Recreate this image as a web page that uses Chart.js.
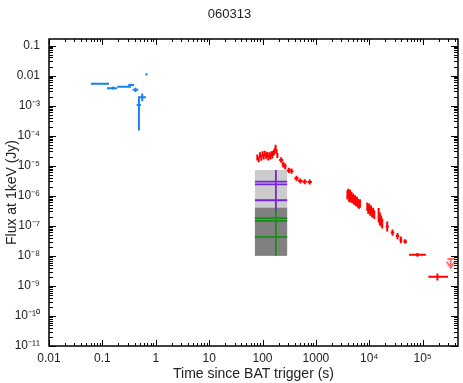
<!DOCTYPE html>
<html><head><meta charset="utf-8">
<script src="https://cdn.jsdelivr.net/npm/chart.js@4/dist/chart.umd.min.js"></script>
<style>html,body{margin:0;padding:0;background:#fff}#wrap{width:463px;height:383px}</style>
</head><body><div id="wrap"><canvas id="c" width="463" height="383"></canvas></div>
<script>
// ---------- data ----------
const titleText = '060313';
const xTitle = 'Time since BAT trigger (s)';
const yTitle = 'Flux at 1keV (Jy)';
const xRange = [0.01, 4.6e5];
const yRange = [1e-11, 0.165];
const xTickExps = [-2, -1, 0, 1, 2, 3, 4, 5];
const xTickLabels = ['0.01', '0.1', '1', '10', '100', '1000', '10⁴', '10⁵'];
const yTickExps = [-1, -2, -3, -4, -5, -6, -7, -8, -9, -10, -11];
const yTickLabels = ['0.1', '0.01', '10⁻³', '10⁻⁴', '10⁻⁵', '10⁻⁶', '10⁻⁷', '10⁻⁸', '10⁻⁹', '10⁻¹⁰', '10⁻¹¹'];

// BAT (blue)
const batT   = [0.093, 0.16, 0.214, 0.285, 0.343, 0.417, 0.67, 0.558, 0.484];
const batTlo = [0.061, 0.122, 0.19, 0.254, 0.305, 0.369, 0.65, 0.47, 0.438];
const batThi = [0.133, 0.188, 0.254, 0.343, 0.391, 0.47, 0.69, 0.655, 0.528];
const batF   = [5.35e-3, 3.8e-3, 4.25e-3, 4.25e-3, 4.9e-3, 3.4e-3, 0.011, 1.9e-3, 1.05e-3];
const batFlo = [5.1e-3, 3.4e-3, 3.95e-3, 3.95e-3, 4.5e-3, 2.85e-3, 0.0101, 1.4e-3, 1.5e-4];
const batFhi = [5.6e-3, 4.3e-3, 4.6e-3, 4.6e-3, 5.3e-3, 3.95e-3, 0.012, 2.55e-3, 2.0e-3];

// XRT (red)
const xrtT = [80, 85, 90, 95, 100, 105, 110, 116, 122, 128, 134, 140, 146, 152, 158, 164, 170, 176, 183, 190,
  224, 245, 266, 312, 350, 434, 512, 617, 765,
  3900, 4050, 4200, 4350, 4500, 4650, 4800, 5000, 5200, 5400, 5600, 5850, 6100, 6400, 6700,
  9200, 9600, 10000, 10400, 10800, 11300, 11800, 12400,
  15000, 15800, 16700, 17500, 21700, 27300, 33800, 39100, 47100, 80000, 189000];
const xrtTlo = [77, 82, 87, 92, 97, 102, 107, 112, 118, 124, 130, 136, 142, 148, 154, 160, 166, 172, 179, 185,
  205, 228, 250, 285, 322, 395, 466, 562, 697,
  3780, 3930, 4080, 4230, 4380, 4530, 4680, 4870, 5070, 5270, 5460, 5700, 5950, 6240, 6540,
  8950, 9350, 9750, 10150, 10550, 11050, 11550, 12150,
  14700, 15500, 16400, 17200, 20300, 25300, 31500, 36800, 43500, 56000, 128000];
const xrtThi = [83, 88, 93, 98, 103, 108, 113, 120, 126, 132, 138, 144, 150, 156, 162, 168, 174, 180, 187, 196,
  245, 263, 283, 342, 380, 477, 563, 678, 840,
  4020, 4170, 4320, 4470, 4620, 4770, 4920, 5130, 5330, 5530, 5740, 6000, 6250, 6560, 6860,
  9450, 9850, 10250, 10650, 11050, 11550, 12050, 12650,
  15300, 16100, 17000, 17800, 23200, 29500, 36300, 41500, 51000, 115000, 300000];
const xrtF = [1.9e-5, 1.6e-5, 2.3e-5, 1.8e-5, 2.5e-5, 2.0e-5, 2.6e-5, 2.1e-5, 2.4e-5, 1.9e-5, 2.3e-5, 2.0e-5, 2.5e-5, 2.2e-5, 2.6e-5, 2.8e-5, 3.3e-5, 4.2e-5, 3.0e-5, 2.2e-5,
  1.55e-5, 1.1e-5, 9.6e-6, 7.0e-6, 6.6e-6, 3.8e-6, 3.1e-6, 2.95e-6, 2.85e-6,
  1.1e-6, 1.25e-6, 9.0e-7, 1.15e-6, 8.5e-7, 1.0e-6, 8.0e-7, 9.0e-7, 7.2e-7, 7.8e-7, 6.4e-7, 6.8e-7, 5.8e-7, 5.2e-7, 5.6e-7,
  4.4e-7, 3.5e-7, 4.0e-7, 3.1e-7, 3.4e-7, 2.7e-7, 2.9e-7, 2.4e-7,
  2.3e-7, 1.8e-7, 1.5e-7, 1.25e-7, 9.5e-8, 6.0e-8, 4.6e-8, 3.4e-8, 3.0e-8, 1.08e-8, 2.0e-9];
const xrtFlo = [1.5e-5, 1.3e-5, 1.85e-5, 1.45e-5, 2.0e-5, 1.6e-5, 2.1e-5, 1.7e-5, 1.95e-5, 1.5e-5, 1.85e-5, 1.6e-5, 2.0e-5, 1.75e-5, 2.1e-5, 2.3e-5, 2.7e-5, 3.5e-5, 2.45e-5, 1.8e-5,
  1.25e-5, 8.8e-6, 7.7e-6, 5.7e-6, 5.4e-6, 3.1e-6, 2.55e-6, 2.4e-6, 2.35e-6,
  7.5e-7, 8.8e-7, 6.2e-7, 8.0e-7, 6.0e-7, 7.0e-7, 5.6e-7, 6.3e-7, 5.0e-7, 5.5e-7, 4.5e-7, 4.8e-7, 4.1e-7, 3.7e-7, 4.0e-7,
  3.1e-7, 2.45e-7, 2.8e-7, 2.15e-7, 2.4e-7, 1.9e-7, 2.0e-7, 1.7e-7,
  1.3e-7, 1.05e-7, 9.5e-8, 8.2e-8, 6.5e-8, 4.7e-8, 3.6e-8, 2.65e-8, 2.55e-8, 9.4e-9, 1.5e-9];
const xrtFhi = [2.35e-5, 2.0e-5, 2.8e-5, 2.2e-5, 3.05e-5, 2.45e-5, 3.15e-5, 2.55e-5, 2.9e-5, 2.3e-5, 2.8e-5, 2.45e-5, 3.05e-5, 2.7e-5, 3.15e-5, 3.4e-5, 4.0e-5, 5.0e-5, 3.6e-5, 2.7e-5,
  1.9e-5, 1.36e-5, 1.18e-5, 8.6e-6, 8.1e-6, 4.6e-6, 3.75e-6, 3.55e-6, 3.45e-6,
  1.5e-6, 1.7e-6, 1.25e-6, 1.6e-6, 1.15e-6, 1.35e-6, 1.08e-6, 1.2e-6, 9.8e-7, 1.05e-6, 8.7e-7, 9.2e-7, 7.9e-7, 7.1e-7, 7.6e-7,
  6.0e-7, 4.8e-7, 5.5e-7, 4.3e-7, 4.7e-7, 3.7e-7, 4.0e-7, 3.3e-7,
  3.9e-7, 2.8e-7, 2.2e-7, 1.75e-7, 1.38e-7, 7.6e-8, 5.8e-8, 4.4e-8, 3.55e-8, 1.24e-8, 2.6e-9];

// XRT upper limit
const ulT = [336000], ulTlo = [291000], ulThi = [405000], ulF = [7.8e-9], ulTip = [4.0e-9];

// UVOT-like bands
const bandT = [178], bandTlo = [72], bandThi = [290];
const lightBox = [4.05e-7, 7.2e-6];
const darkBox = [1.0e-8, 4.05e-7];
const purpleF = [2.97e-6, 2.41e-6, 7.1e-7];
const purpleSpan = [3.37e-7, 7.2e-6];
const greenF = [1.79e-7, 1.45e-7, 4.3e-8];
const greenSpan = [1.0e-8, 3.37e-7];

// ---------- colours ----------
const BLUE = '#1a82ec', RED = '#ff0000', PINK = '#ff7070';
const PURPLE = '#7a22dc', GREEN = '#1a8c1a', LGREY = '#cccccc', DGREY = '#808080';

const FONT = "'Liberation Sans', Arial, Helvetica, sans-serif";
Chart.defaults.font.family = FONT;

function pts(t, f) { return t.map((v, i) => ({x: v, y: f[i]})); }
function labelFor(v, exps, labels) {
  const l = Math.log10(v), e = Math.round(l);
  if (Math.abs(l - e) > 1e-6) return '';
  const k = exps.indexOf(e);
  return k >= 0 ? labels[k] : '';
}

const bandsPlugin = {
  id: 'bands',
  beforeDatasetsDraw(chart) {
    const {ctx, chartArea: a, scales: {x, y}} = chart;
    ctx.save();
    ctx.beginPath(); ctx.rect(a.left, a.top, a.right - a.left, a.bottom - a.top); ctx.clip();
    const x0 = x.getPixelForValue(bandTlo[0]), x1 = x.getPixelForValue(bandThi[0]), xc = x.getPixelForValue(bandT[0]);
    const box = (r, c) => { const y0 = y.getPixelForValue(r[1]), y1 = y.getPixelForValue(r[0]); ctx.fillStyle = c; ctx.fillRect(x0, y0, x1 - x0, y1 - y0); };
    box(lightBox, LGREY); box(darkBox, DGREY);
    const lines = (vals, span, c) => {
      ctx.strokeStyle = c; ctx.lineWidth = 1.8; ctx.beginPath();
      vals.forEach(v => { const py = y.getPixelForValue(v); ctx.moveTo(x0, py); ctx.lineTo(x1, py); });
      ctx.moveTo(xc, y.getPixelForValue(span[0])); ctx.lineTo(xc, y.getPixelForValue(span[1]));
      ctx.stroke();
    };
    lines(purpleF, purpleSpan, PURPLE); lines(greenF, greenSpan, GREEN);
    ctx.restore();
  }
};

const errorPlugin = {
  id: 'errbars',
  afterDatasetsDraw(chart) {
    const {ctx, chartArea: a, scales: {x, y}} = chart;
    ctx.save();
    ctx.beginPath(); ctx.rect(a.left, a.top, a.right - a.left, a.bottom - a.top); ctx.clip();
    chart.data.datasets.forEach(ds => {
      const e = ds.err; if (!e) return;
      ctx.strokeStyle = ds.borderColor; ctx.lineWidth = 2;
      ds.data.forEach((p, i) => {
        const px = x.getPixelForValue(p.x), py = y.getPixelForValue(p.y);
        const xa = x.getPixelForValue(e.tlo[i]), xb = x.getPixelForValue(e.thi[i]);
        ctx.beginPath();
        ctx.moveTo(xa, py); ctx.lineTo(xb, py);
        if (e.ul) {
          const yt = y.getPixelForValue(e.tip[i]);
          ctx.moveTo(px, py); ctx.lineTo(px, yt);
          ctx.moveTo(px - 4, yt - 6); ctx.lineTo(px, yt); ctx.lineTo(px + 4, yt - 6);
        } else {
          ctx.moveTo(px, y.getPixelForValue(e.fhi[i])); ctx.lineTo(px, y.getPixelForValue(e.flo[i]));
        }
        ctx.stroke();
      });
    });
    ctx.restore();
  }
};

const framePlugin = {
  id: 'frame',
  afterDraw(chart) {
    const {ctx, chartArea: a, scales: {x, y}} = chart;
    ctx.save();
    ctx.strokeStyle = '#000'; ctx.lineWidth = 1;
    ctx.beginPath();
    for (let e = -3; e <= 6; e++) for (let m = 1; m <= 9; m++) {
      const v = m * Math.pow(10, e);
      if (v < x.min * 0.999 || v > x.max) continue;
      const px = Math.round(x.getPixelForValue(v)) + 0.5, L = m === 1 ? 6 : 3;
      ctx.moveTo(px, a.bottom); ctx.lineTo(px, a.bottom - L);
      ctx.moveTo(px, a.top); ctx.lineTo(px, a.top + L);
    }
    for (let e = -12; e <= 0; e++) for (let m = 1; m <= 9; m++) {
      const v = m * Math.pow(10, e);
      if (v < y.min * 0.999 || v > y.max) continue;
      const py = Math.round(y.getPixelForValue(v)) + 0.5, L = m === 1 ? 7 : 4;
      ctx.moveTo(a.left, py); ctx.lineTo(a.left + L, py);
      ctx.moveTo(a.right, py); ctx.lineTo(a.right - L, py);
    }
    ctx.stroke();
    ctx.lineWidth = 1.5;
    ctx.strokeRect(a.left, a.top, a.right - a.left, a.bottom - a.top);
    ctx.restore();
  }
};

new Chart(document.getElementById('c'), {
  type: 'scatter',
  data: {
    datasets: [
      {label: 'BAT', data: pts(batT, batF), borderColor: BLUE, backgroundColor: BLUE, pointRadius: 0,
       err: {tlo: batTlo, thi: batThi, flo: batFlo, fhi: batFhi}},
      {label: 'XRT', data: pts(xrtT, xrtF), borderColor: RED, backgroundColor: RED, pointRadius: 0,
       err: {tlo: xrtTlo, thi: xrtThi, flo: xrtFlo, fhi: xrtFhi}},
      {label: 'XRT UL', data: pts(ulT, ulF), borderColor: PINK, backgroundColor: PINK, pointRadius: 0,
       err: {tlo: ulTlo, thi: ulThi, ul: true, tip: ulTip}}
    ]
  },
  options: {
    responsive: false, animation: false, devicePixelRatio: 1,
    layout: {padding: {left: 0, right: 4, top: 0, bottom: 0}},
    plugins: {
      legend: {display: false}, tooltip: {enabled: false},
      title: {display: true, text: titleText, color: '#222', font: {size: 13, weight: 'normal', family: FONT},
              padding: {top: 7, bottom: 16.4}}
    },
    scales: {
      x: {type: 'logarithmic', min: xRange[0], max: xRange[1], position: 'bottom',
          grid: {display: false, drawTicks: false}, border: {display: false},
          ticks: {autoSkip: false, maxRotation: 0, padding: 5, color: '#222', font: {size: 12},
                  callback: v => labelFor(v, xTickExps, xTickLabels)},
          title: {display: true, text: xTitle, color: '#222', font: {size: 14}, padding: {top: 0, bottom: 0}},
          afterFit(s) { s.height = 37; }},
      y: {type: 'logarithmic', min: yRange[0], max: yRange[1], position: 'left',
          grid: {display: false, drawTicks: false}, border: {display: false},
          ticks: {autoSkip: false, padding: 9, color: '#222', font: {size: 12},
                  callback: v => labelFor(v, yTickExps, yTickLabels)},
          title: {display: true, text: yTitle, color: '#222', font: {size: 14}, padding: {top: 4, bottom: 0}},
          afterFit(s) { s.width = 49; }}
    }
  },
  plugins: [bandsPlugin, errorPlugin, framePlugin]
});
</script></body></html>
